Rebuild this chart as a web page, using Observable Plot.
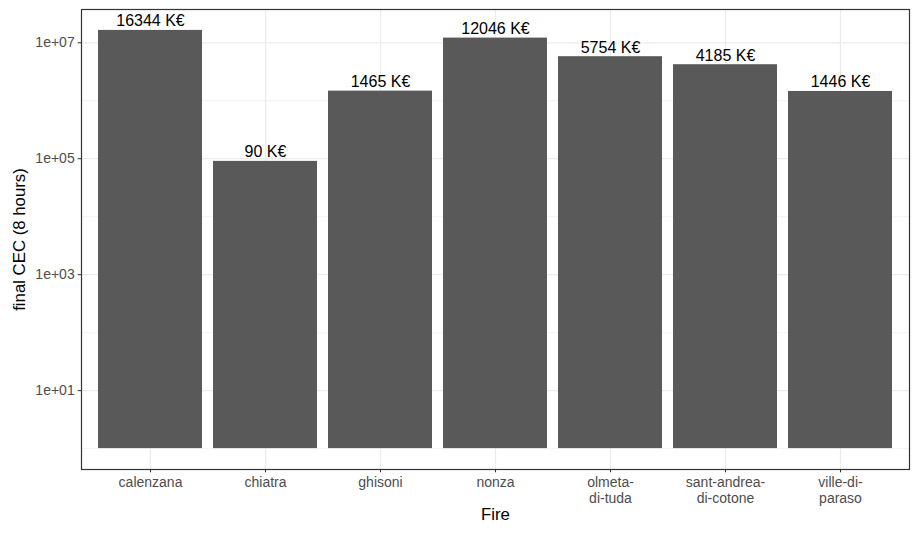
<!DOCTYPE html>
<html><head><meta charset="utf-8">
<script src="https://cdn.jsdelivr.net/npm/d3@7"></script>
<script src="https://cdn.jsdelivr.net/npm/@observablehq/plot@0.6"></script>
<style>
body{margin:0;background:#fff;}
svg{font-family:"Liberation Sans",Arial,sans-serif;}
</style></head><body><div id="chart"></div>
<script>
const fires = ["calenzana","chiatra","ghisoni","nonza","olmeta-di-tuda","sant-andrea-di-cotone","ville-di-paraso"];
const tickLabels = ["calenzana","chiatra","ghisoni","nonza","olmeta-\ndi-tuda","sant-andrea-\ndi-cotone","ville-di-\nparaso"];
const cecK = [16344, 90, 1465, 12046, 5754, 4185, 1446]; // K€
const majorTicks = [1e1, 1e3, 1e5, 1e7];
const minorTicks = [1e0, 1e2, 1e4, 1e6];

const data = fires.map((f, i) => ({fire: f, value: cecK[i] * 1000, label: cecK[i] + " K€"}));
const labelOf = Object.fromEntries(fires.map((f, i) => [f, tickLabels[i]]));
const fmt = d => { const e = Math.round(Math.log10(d)); return "1e" + (e < 0 ? "-" : "+") + String(Math.abs(e)).padStart(2, "0"); };

const lo = Math.log10(1), hi = Math.log10(d3.max(data, d => d.value));
const pad = (hi - lo) * 0.05;

const chart = Plot.plot({
  width: 912, height: 533,
  marginLeft: 81, marginRight: 3, marginTop: 9, marginBottom: 64,
  style: {fontFamily: "'Liberation Sans', Arial, sans-serif", background: "#fff"},
  x: {domain: fires, paddingInner: 0.1, paddingOuter: 0.15, label: null},
  y: {type: "log", domain: [Math.pow(10, lo - pad), Math.pow(10, hi + pad)], label: null},
  marks: [
    Plot.gridY(minorTicks, {stroke: "#EBEBEB", strokeOpacity: 1, strokeWidth: 0.6}),
    Plot.gridY(majorTicks, {stroke: "#EBEBEB", strokeOpacity: 1, strokeWidth: 1.2}),
    Plot.gridX(fires, {stroke: "#EBEBEB", strokeOpacity: 1, strokeWidth: 1.2}),
    Plot.barY(data, {x: "fire", y1: 1, y2: "value", fill: "#595959"}),
    Plot.text(data, {x: "fire", y: "value", text: "label", lineAnchor: "bottom", dy: -4, fontSize: 16, fill: "#000"}),
    Plot.frame({stroke: "#333333", strokeWidth: 1.2}),
    Plot.axisY(majorTicks, {tickFormat: fmt, tickSize: 3.3, tickPadding: 3.5, fontSize: 14, color: "#4D4D4D", stroke: "#333333", label: null}),
    Plot.axisX(fires, {tickFormat: d => labelOf[d], tickSize: 3.3, tickPadding: 3, fontSize: 14, color: "#4D4D4D", stroke: "#333333", label: null, lineHeight: 1.14}),
    Plot.text(["Fire"], {frameAnchor: "bottom", dy: 50, fontSize: 16.8, fill: "#000"}),
    Plot.text(["final CEC (8 hours)"], {frameAnchor: "left", textAnchor: "middle", dx: -62, rotate: -90, fontSize: 16.8, fill: "#000"})
  ]
});
document.getElementById("chart").appendChild(chart);
</script></body></html>
